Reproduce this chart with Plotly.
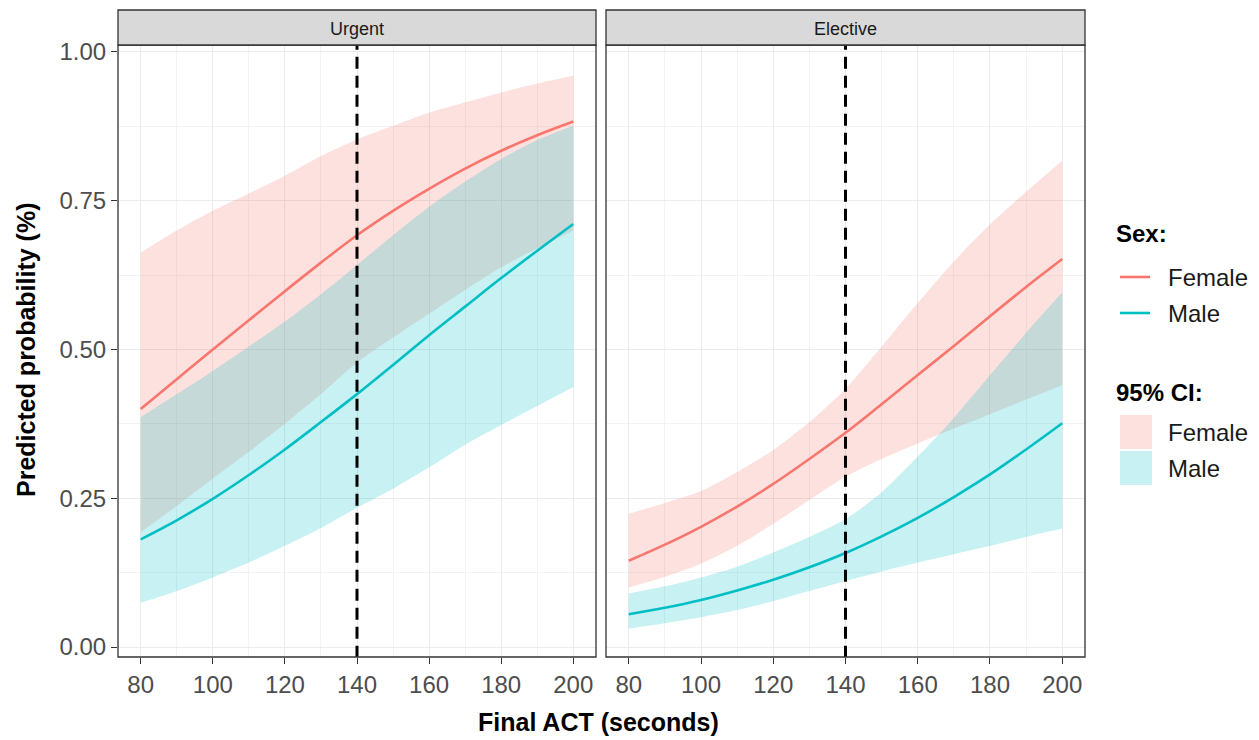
import plotly.graph_objects as go

# ---------------- data ----------------
act = [80, 90, 100, 110, 120, 130, 140, 150, 160, 170, 180, 190, 200]

urg_f_fit = [0.400, 0.450, 0.500, 0.549, 0.598, 0.646, 0.692, 0.733, 0.770, 0.804, 0.834, 0.860, 0.883]
urg_f_hi  = [0.663, 0.700, 0.733, 0.762, 0.792, 0.825, 0.853, 0.876, 0.898, 0.915, 0.932, 0.947, 0.960]
urg_f_lo  = [0.193, 0.237, 0.283, 0.328, 0.375, 0.425, 0.478, 0.520, 0.560, 0.600, 0.638, 0.670, 0.700]
urg_m_fit = [0.181, 0.213, 0.249, 0.289, 0.332, 0.378, 0.425, 0.474, 0.524, 0.572, 0.620, 0.666, 0.711]
urg_m_hi  = [0.386, 0.425, 0.464, 0.505, 0.547, 0.593, 0.642, 0.692, 0.740, 0.782, 0.820, 0.852, 0.876]
urg_m_lo  = [0.074, 0.094, 0.117, 0.142, 0.170, 0.200, 0.234, 0.266, 0.302, 0.340, 0.373, 0.405, 0.437]

ele_f_fit = [0.145, 0.172, 0.202, 0.236, 0.274, 0.316, 0.360, 0.408, 0.457, 0.506, 0.556, 0.605, 0.652]
ele_f_hi  = [0.224, 0.242, 0.262, 0.294, 0.331, 0.378, 0.434, 0.505, 0.578, 0.648, 0.710, 0.765, 0.817]
ele_f_lo  = [0.100, 0.118, 0.140, 0.170, 0.207, 0.247, 0.286, 0.316, 0.342, 0.367, 0.391, 0.416, 0.440]
ele_m_fit = [0.055, 0.066, 0.079, 0.095, 0.113, 0.134, 0.158, 0.186, 0.217, 0.252, 0.290, 0.332, 0.376]
ele_m_hi  = [0.090, 0.102, 0.117, 0.135, 0.159, 0.185, 0.215, 0.260, 0.320, 0.385, 0.457, 0.528, 0.596]
ele_m_lo  = [0.031, 0.040, 0.050, 0.062, 0.077, 0.094, 0.111, 0.127, 0.142, 0.156, 0.170, 0.185, 0.199]

panels = ["Urgent", "Elective"]
cutoff = 140
x_ticks = [80, 100, 120, 140, 160, 180, 200]
x_minor = [90, 110, 130, 150, 170, 190]
y_ticks = [0.00, 0.25, 0.50, 0.75, 1.00]
y_minor = [0.125, 0.375, 0.625, 0.875]
sexes = ["Female", "Male"]

# ---------------- style ----------------
W, H = 1259, 740
FONT = "Arial, Liberation Sans, sans-serif"
COL = {"Female": "#F8766D", "Male": "#00BFC4"}
FILL = {"Female": "rgba(248,118,109,0.22)", "Male": "rgba(0,191,196,0.22)"}

def px_x(p):
    return p / W

def px_y(p):
    return 1 - p / H

dom_x = [[px_x(118), px_x(596)], [px_x(606), px_x(1085)]]
dom_y = [px_y(657), px_y(45)]

fig = go.Figure()

data = {
    "Urgent": {"Female": (urg_f_fit, urg_f_lo, urg_f_hi), "Male": (urg_m_fit, urg_m_lo, urg_m_hi)},
    "Elective": {"Female": (ele_f_fit, ele_f_lo, ele_f_hi), "Male": (ele_m_fit, ele_m_lo, ele_m_hi)},
}

for i, pan in enumerate(panels):
    xa = "x" if i == 0 else "x2"
    ya = "y" if i == 0 else "y2"
    for s in sexes:
        fit, lo, hi = data[pan][s]
        fig.add_trace(go.Scatter(
            x=act, y=lo, mode="lines", line=dict(width=0, shape="spline", smoothing=0.8,
                                                 color="rgba(0,0,0,0)"),
            xaxis=xa, yaxis=ya, showlegend=False, hoverinfo="skip"))
        fig.add_trace(go.Scatter(
            x=act, y=hi, mode="lines", fill="tonexty", fillcolor=FILL[s],
            line=dict(width=0, shape="spline", smoothing=0.8, color="rgba(0,0,0,0)"),
            xaxis=xa, yaxis=ya, showlegend=False, hoverinfo="skip"))
    for s in sexes:
        fit, lo, hi = data[pan][s]
        fig.add_trace(go.Scatter(
            x=act, y=fit, mode="lines", line=dict(color=COL[s], width=2.6, shape="spline"),
            xaxis=xa, yaxis=ya, showlegend=False, hoverinfo="skip"))
    fig.add_trace(go.Scatter(
        x=[cutoff, cutoff], y=[-0.05, 1.05], mode="lines",
        line=dict(color="black", width=3, dash="12px,7px"),
        xaxis=xa, yaxis=ya, showlegend=False, hoverinfo="skip"))

def axis(dom, rng, tv, mv, anchor, labels=True, ticks="outside", fmt=None):
    d = dict(
        domain=dom, range=rng, tickvals=tv, anchor=anchor, automargin=False,
        showline=False, zeroline=False, ticks=ticks, ticklen=6, tickwidth=1.2,
        tickcolor="#333333", gridcolor="#EBEBEB", gridwidth=1.1,
        showticklabels=labels,
        tickfont=dict(family=FONT, size=24, color="#4D4D4D"),
        minor=dict(tickvals=mv, showgrid=True, gridcolor="#F3F3F3", gridwidth=0.6, ticks=""),
    )
    if fmt:
        d["tickformat"] = fmt
    return d

xr = [73.7, 206.3]
yr = [-0.0168, 1.0117]

fig.update_layout(
    width=W, height=H, margin=dict(l=0, r=0, t=0, b=0, autoexpand=False),
    paper_bgcolor="white", plot_bgcolor="white", showlegend=False,
    xaxis=axis(dom_x[0], xr, x_ticks, x_minor, "y"),
    xaxis2=axis(dom_x[1], xr, x_ticks, x_minor, "y2"),
    yaxis=axis(dom_y, yr, y_ticks, y_minor, "x", fmt=".2f"),
    yaxis2=axis(dom_y, yr, y_ticks, y_minor, "x2", labels=False, ticks=""),
)

shapes = []
annotations = []
# panel borders and strips
for i, pan in enumerate(panels):
    x0, x1 = dom_x[i]
    shapes.append(dict(type="rect", xref="paper", yref="paper", x0=x0, x1=x1,
                       y0=dom_y[0], y1=dom_y[1], line=dict(color="#333333", width=1.3),
                       fillcolor="rgba(0,0,0,0)", layer="above"))
    shapes.append(dict(type="rect", xref="paper", yref="paper", x0=x0, x1=x1,
                       y0=dom_y[1], y1=px_y(10), line=dict(color="#333333", width=1.3),
                       fillcolor="#D9D9D9", layer="above"))
    annotations.append(dict(text=pan, xref="paper", yref="paper", x=(x0 + x1) / 2,
                            y=px_y(29), xanchor="center", yanchor="middle", showarrow=False,
                            font=dict(family=FONT, size=18, color="#1A1A1A")))

# axis titles
annotations.append(dict(text="<b>Final ACT (seconds)</b>", xref="paper", yref="paper",
                        x=px_x(598), y=px_y(722), xanchor="center", yanchor="middle",
                        showarrow=False, font=dict(family=FONT, size=25, color="black")))
annotations.append(dict(text="<b>Predicted probability (%)</b>", xref="paper", yref="paper",
                        x=px_x(26), y=px_y(350), xanchor="center", yanchor="middle",
                        textangle=-90, showarrow=False,
                        font=dict(family=FONT, size=25, color="black")))

# legend
LF = dict(family=FONT, size=24, color="#1A1A1A")
annotations.append(dict(text="<b>Sex:</b>", xref="paper", yref="paper", x=px_x(1114), y=px_y(233),
                        xanchor="left", yanchor="middle", showarrow=False,
                        font=dict(family=FONT, size=24, color="black")))
annotations.append(dict(text="<b>95% CI:</b>", xref="paper", yref="paper", x=px_x(1114), y=px_y(392),
                        xanchor="left", yanchor="middle", showarrow=False,
                        font=dict(family=FONT, size=24, color="black")))
for s, yl, yb in [("Female", 277, 432), ("Male", 313, 468)]:
    shapes.append(dict(type="line", xref="paper", yref="paper", x0=px_x(1120), x1=px_x(1150),
                       y0=px_y(yl), y1=px_y(yl), line=dict(color=COL[s], width=2.6)))
    annotations.append(dict(text=s, xref="paper", yref="paper", x=px_x(1166), y=px_y(yl),
                            xanchor="left", yanchor="middle", showarrow=False, font=LF))
    shapes.append(dict(type="rect", xref="paper", yref="paper", x0=px_x(1120), x1=px_x(1152),
                       y0=px_y(yb - 17), y1=px_y(yb + 17), line=dict(width=0),
                       fillcolor=FILL[s]))
    annotations.append(dict(text=s, xref="paper", yref="paper", x=px_x(1166), y=px_y(yb),
                            xanchor="left", yanchor="middle", showarrow=False, font=LF))

fig.update_layout(shapes=shapes, annotations=annotations)
fig.write_html("out.html")
